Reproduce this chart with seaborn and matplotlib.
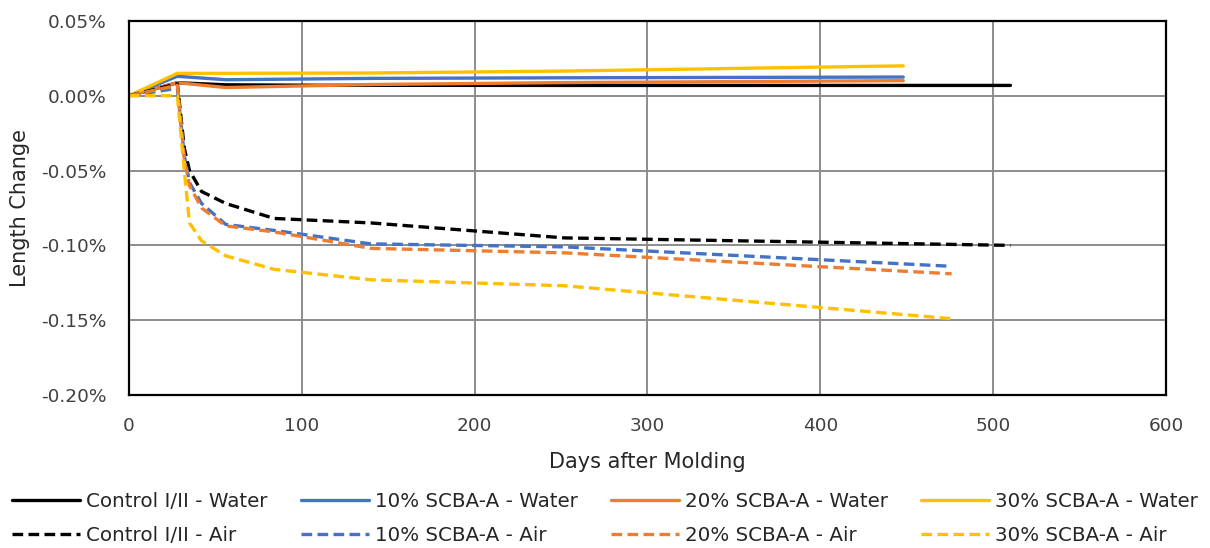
import matplotlib
matplotlib.use('Agg')
import matplotlib.pyplot as plt
import seaborn as sns
import pandas as pd
from matplotlib.ticker import FuncFormatter

# dados (variacao de comprimento em %)
water_days_ctrl = [0, 28, 56, 112, 252, 510]
water_days = [0, 28, 56, 140, 252, 448]
ctrl_water = [0.0, 0.0087, 0.0073, 0.0070, 0.0069, 0.0069]
scba10_water = [0.0, 0.0130, 0.0107, 0.0116, 0.0120, 0.0125]
scba20_water = [0.0, 0.0087, 0.0055, 0.0075, 0.0088, 0.0101]
scba30_water = [0.0, 0.0150, 0.0150, 0.0152, 0.0165, 0.0200]

air_days_ctrl = [0, 28, 32, 35, 42, 56, 84, 140, 252, 510]
air_days = [0, 28, 32, 35, 42, 56, 84, 140, 252, 476]
ctrl_air = [0.0, 0.008, -0.035, -0.050, -0.064, -0.072, -0.082, -0.085, -0.095, -0.100]
scba10_air = [0.0, 0.005, -0.040, -0.058, -0.072, -0.086, -0.090, -0.099, -0.101, -0.114]
scba20_air = [0.0, 0.007, -0.042, -0.060, -0.075, -0.087, -0.091, -0.102, -0.105, -0.119]
scba30_air = [0.0, 0.0, -0.050, -0.085, -0.097, -0.107, -0.116, -0.123, -0.127, -0.149]

labels = ['Control I/II - Water', '10% SCBA-A - Water', '20% SCBA-A - Water', '30% SCBA-A - Water',
          'Control I/II - Air', '10% SCBA-A - Air', '20% SCBA-A - Air', '30% SCBA-A - Air']
cores = ['#000000', '#4472C4', '#ED7D31', '#FFC000']

series = [
    (water_days_ctrl, ctrl_water), (water_days, scba10_water), (water_days, scba20_water), (water_days, scba30_water),
    (air_days_ctrl, ctrl_air), (air_days, scba10_air), (air_days, scba20_air), (air_days, scba30_air),
]

sns.set_style('white')
plt.rcParams['font.family'] = ['DejaVu Sans']

fig = plt.figure(figsize=(12.1, 5.48), dpi=100)
ax = fig.add_axes([0.1066, 0.2792, 0.8570, 0.6826])

handles = []
for i, (d, v) in enumerate(series):
    df = pd.DataFrame({'dias': d, 'var': v})
    ls = '-' if i < 4 else (0, (3.2, 1.6))
    sns.lineplot(data=df, x='dias', y='var', ax=ax, color=cores[i % 4], lw=2.4,
                 linestyle=ls, label=labels[i], sort=False, legend=False)
    handles.append(ax.lines[-1])

ax.set_xlim(0, 600)
ax.set_ylim(-0.20, 0.05)
ax.set_xticks(range(0, 601, 100))
ax.set_yticks([-0.20, -0.15, -0.10, -0.05, 0.0, 0.05])
ax.yaxis.set_major_formatter(FuncFormatter(lambda y, p: f'{y:.2f}%'))
ax.grid(True, color='#8c8c8c', lw=1.4)
ax.set_axisbelow(True)
for s in ax.spines.values():
    s.set_color('black')
    s.set_linewidth(1.6)
ax.tick_params(axis='y', labelsize=13.3, colors='#404040', length=0, pad=16)
ax.tick_params(axis='x', labelsize=13.3, colors='#404040', length=0, pad=16)
ax.set_xlabel('Days after Molding', fontsize=15, labelpad=12, color='#262626')
ax.set_ylabel('Length Change', fontsize=15, labelpad=8, color='#262626')

# legenda em 2 linhas, ordem por linha
ordem = [0, 4, 1, 5, 2, 6, 3, 7]
leg = fig.legend([handles[k] for k in ordem], [labels[k] for k in ordem], ncol=4,
                 loc='lower left', bbox_to_anchor=(0.002, -0.012, 0.996, 0.12), mode='expand',
                 frameon=False, fontsize=14.3, handlelength=3.4, handletextpad=0.3,
                 labelspacing=0.75, borderaxespad=0.1)
for t in leg.get_texts():
    t.set_color('#262626')

fig.savefig('out.png', dpi=100)
